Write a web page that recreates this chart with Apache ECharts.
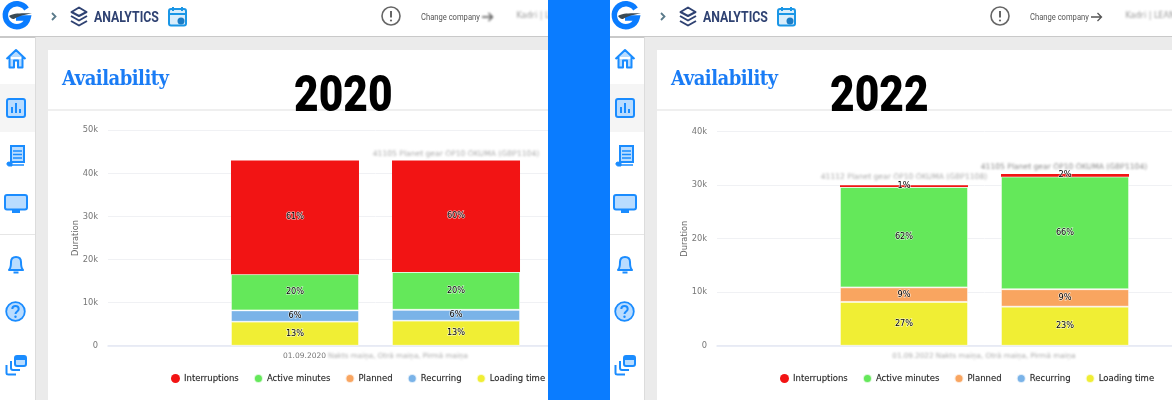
<!DOCTYPE html>
<html><head><meta charset="utf-8">
<script src="https://cdn.jsdelivr.net/npm/echarts@6/dist/echarts.min.js"></script>
<style>
html,body{margin:0;padding:0;width:1172px;height:400px;overflow:hidden;background:#fff;font-family:Roboto,sans-serif}
.panel{position:absolute;top:0;height:400px;overflow:hidden;background:#fff}
.abs{position:absolute;white-space:nowrap}
.blur{position:absolute;white-space:nowrap;filter:blur(1px);transform:translateX(-50%);font-family:"DejaVu Sans";font-size:7.6px;color:#888}
.chart{position:absolute;left:0;top:0;width:700px;height:400px}
svg{position:absolute;overflow:visible}
</style></head><body>
<div class="panel" id="p0" style="left:0;width:548px"></div>
<div class="panel" id="p1" style="left:609px;width:563px"></div>
<div class="abs" style="left:548px;top:0;width:62px;height:400px;background:#0a7cff;z-index:5"></div>
<script>
const seriesNames=['Loading time','Recurring','Planned','Active minutes','Interruptions'];
const seriesColors=['#f0ee34','#7ab3e8','#f9a560','#64e85a','#f21414'];
const legendOrder=['Interruptions','Active minutes','Planned','Recurring','Loading time'];

const loading2020=[5570,5800], recurring2020=[2630,2550], planned2020=[0,0], active2020=[8400,8750], interruptions2020=[26400,25900];
const pctLoading2020=['13%','13%'], pctRecurring2020=['6%','6%'], pctPlanned2020=['',''], pctActive2020=['20%','20%'], pctInterruptions2020=['61%','60%'];

const loading2022=[8200,7300], recurring2022=[0,0], planned2022=[2700,3250], active2022=[18750,21050], interruptions2022=[350,500];
const pctLoading2022=['27%','23%'], pctRecurring2022=['',''], pctPlanned2022=['9%','9%'], pctActive2022=['62%','66%'], pctInterruptions2022=['1%','2%'];

const yTicksMax2020=50000, yTicksMax2022=40000, yInterval=10000;
const dateLabel2020='01.09.2020', dateLabel2022='01.09.2022';
const shiftLabel='Nakts maiņa, Otrā maiņa, Pirmā maiņa';
const partName1='41112 Planet gear OP10 OKUMA (GBP1108)', partName2='41105 Planet gear OP10 OKUMA (GBP1104)';

const B='#1a8cff', L='#b9dcff';
const icons=`
<svg style="left:5px;top:48px" width="22" height="22" viewBox="0 0 22 22"><path d="M1.5 11 11 2l9.5 9M4.5 9v10.5h4.5v-7h4v7h4.5V9" fill="${L}" stroke="${B}" stroke-width="2" stroke-linejoin="round"/></svg>
<svg style="left:6px;top:98px" width="20" height="20" viewBox="0 0 20 20"><rect x="1" y="1" width="18" height="18" rx="2" fill="${L}" stroke="${B}" stroke-width="2"/><path d="M6 15V9M10 15V5M14 15v-4" stroke="${B}" stroke-width="2"/></svg>
<svg style="left:6px;top:145px" width="20" height="22" viewBox="0 0 20 22"><path d="M5 1h13v16H5z" fill="${L}" stroke="${B}" stroke-width="2"/><path d="M1 18c2-2 3 0 4-1v-1h1v5H3c-1 0-2-1-2-2z" fill="${B}" stroke="${B}"/><path d="M5 20h13M7 6h9M7 9.500h9M7 13h9" stroke="${B}" stroke-width="1.500"/></svg>
<svg style="left:4px;top:194px" width="24" height="20" viewBox="0 0 24 20"><rect x="1" y="1" width="22" height="14.500" rx="2" fill="${L}" stroke="${B}" stroke-width="2"/><rect x="8" y="16" width="8" height="3" fill="${B}"/></svg>
<svg style="left:7px;top:254px" width="18" height="21" viewBox="0 0 18 21"><path d="M2 16c2-2 2-4 2-8 0-3 2-5 5-5s5 2 5 5c0 4 0 6 2 8z" fill="${L}" stroke="${B}" stroke-width="2" stroke-linejoin="round"/><path d="M6.500 18.500h5" stroke="${B}" stroke-width="2"/></svg>
<svg style="left:5px;top:301px" width="21" height="21" viewBox="0 0 21 21"><circle cx="10.500" cy="10.500" r="9.300" fill="${L}" stroke="${B}" stroke-width="1.800"/><path d="M7.300 8c0-2 1.500-3 3.200-3s3.200 1 3.200 3c0 2.500-3.200 2.500-3.200 5" fill="none" stroke="${B}" stroke-width="2"/><circle cx="10.500" cy="15.800" r="1.200" fill="${B}"/></svg>
<svg style="left:5px;top:355px" width="22" height="21" viewBox="0 0 22 21"><rect x="10" y="1" width="11" height="10" rx="2" fill="${L}" stroke="${B}" stroke-width="2"/><rect x="10" y="2" width="11" height="3" fill="${B}"/><path d="M6 6v7c0 1 1 2 2 2h7M1.500 10v8c0 1 1 1.500 2 1.500H11" fill="none" stroke="${B}" stroke-width="2"/></svg>`;

function chrome(title, x, showArrowBlur, blurUser){
return `
<div class="abs" style="left:0;top:36px;width:100%;height:1.500px;background:#c9c9c9"></div>
<div class="abs" style="left:35px;top:37px;width:1000px;height:363px;background:#ebebeb;border-left:1px solid #dcdcdc"></div>
<div class="abs" style="left:0;top:84px;width:35px;height:48px;background:#f5f5f5"></div>
<div class="abs" style="left:0;top:234px;width:35px;height:1px;background:#e6e6e6"></div>
<div class="abs" style="left:48px;top:50px;width:1000px;height:350px;background:#fff"></div>
<div class="abs" style="left:48px;top:109px;width:1000px;height:1.500px;background:#efefef"></div>
<svg style="left:2px;top:2px" width="29" height="29" viewBox="0 0 29 29"><path d="M24.500 7A11.500 11.500 0 1 0 26 16H14" fill="none" stroke="#0a7cff" stroke-width="5.500"/><path d="M7 14c4-2.500 11-3 23-2.500C20 13 15 15 12 17c-2 .5-4-1.500-5-3z" fill="#3a4a55"/></svg>
<svg style="left:51px;top:12px" width="6" height="9" viewBox="0 0 6 9"><path d="M1 1l3.500 3.500L1 8" fill="none" stroke="#5a7a8a" stroke-width="1.800"/></svg>
<svg style="left:69px;top:6px" width="20" height="22" viewBox="0 0 20 22"><g fill="none" stroke="#2f4272" stroke-width="2" stroke-linejoin="round"><path d="M10 1.500 17.500 6 10 10 2.500 6z"/><path d="M2 10l8 4.500 8-4.500M2 15l8 4.500 8-4.500"/></g></svg>
<div class="abs" style="left:94px;top:7px;font:700 15px/20px Roboto;color:#2f4272;transform:scaleX(.82);transform-origin:left">ANALYTICS</div>
<svg style="left:168px;top:6px" width="19" height="21" viewBox="0 0 19 21"><rect x="1" y="3" width="17" height="16.500" rx="2" fill="#d9edfb" stroke="#1a96e6" stroke-width="2"/><path d="M1 8h17M5 1v4M14 1v4" stroke="#1a96e6" stroke-width="2"/><circle cx="13" cy="15" r="3.500" fill="#1a7cc6"/></svg>
<svg style="left:381px;top:6px" width="20" height="20" viewBox="0 0 20 20"><circle cx="10" cy="10" r="9" fill="none" stroke="#666" stroke-width="1.600"/><path d="M10 5v6.500" stroke="#666" stroke-width="2"/><circle cx="10" cy="14.500" r="1.100" fill="#666"/></svg>
<div class="abs" style="left:421px;top:11px;font:400 9.500px/12px Roboto;color:#555;transform:scaleX(.8);transform-origin:left">Change company</div>
<svg style="left:482px;top:12px;${showArrowBlur?'filter:blur(.8px)':''}" width="12" height="10" viewBox="0 0 12 10"><path d="M0 5h10M6.500 1 10.500 5 6.500 9" fill="none" stroke="#555" stroke-width="1.300"/></svg>
<div class="blur" style="left:${blurUser}px;top:11px;font-size:8px;color:#999">Kadri | LEAN Manager</div>
<div class="abs" style="left:62px;top:64px;font:700 20.500px/28px 'DejaVu Serif';color:#1a7cf5;letter-spacing:-.6px;transform:scaleX(.88);transform-origin:left">Availability</div>
<div class="abs" style="left:${x}px;top:64px;font:900 50px/60px Roboto;color:#000;transform:scaleX(.85);transform-origin:left">${title}</div>
${icons}`;
}

function build(id,title,titleX,arrowBlur,userX,yMax,gridTop,date,showDate,data,pcts,blurs){
  const p=document.getElementById(id);
  p.innerHTML=chrome(title,titleX,arrowBlur,userX)+'<div class="chart"></div>'+
    blurs.map(b=>`<div class="blur" style="left:${b[1]}px;top:${b[2]}px;${b[3]||''}">${b[0]}</div>`).join('');
  const chart=echarts.init(p.querySelector('.chart'),null,{renderer:'canvas'});
  const series=[];
  [0,1].forEach(s=>{
    seriesNames.forEach((n,i)=>{
      series.push({name:n,type:'bar',stack:'s'+s,barWidth:128,barGap:'25.800%',
        data:[data[i][s]],
        itemStyle:{color:seriesColors[i],borderColor:i===4?'transparent':'rgba(255,255,255,.75)',borderWidth:i===4?0:.8},
        label:{show:!!pcts[i][s],position:'inside',formatter:()=>pcts[i][s],
          fontFamily:'DejaVu Sans',fontSize:8.200,color:'#000',textBorderColor:'rgba(255,255,255,.75)',textBorderWidth:1.200}});
    });
  });
  chart.setOption({
    animation:false,
    color:seriesColors,
    grid:{left:108,width:535,top:gridTop,bottom:54.300},
    legend:{left:171,top:373,padding:0,itemGap:14,itemWidth:9,itemHeight:9,icon:'circle',data:legendOrder,
      textStyle:{fontFamily:'DejaVu Sans',fontSize:8.500,color:'#222',textBorderColor:'rgba(30,30,30,.35)',textBorderWidth:.3,padding:[0,0,0,-1]}},
    xAxis:{type:'category',data:[date],
      axisTick:{show:false},axisLine:{lineStyle:{color:'#e3e8f4',width:1.500}},
      axisLabel:{show:showDate,fontFamily:'DejaVu Sans',fontSize:7.500,color:'#777',margin:6,padding:[0,142,0,0]}},
    yAxis:{type:'value',min:0,max:yMax,interval:yInterval,name:'Duration',nameLocation:'middle',nameGap:28,nameMoveOverlap:false,
      nameTextStyle:{fontFamily:'DejaVu Sans',fontSize:8.300,color:'#666'},
      axisLabel:{formatter:v=>v===0?'0':(v/1000)+'k',fontFamily:'DejaVu Sans',fontSize:8.300,color:'#777',margin:10},
      axisLine:{show:false},axisTick:{show:false},splitLine:{lineStyle:{color:'#f0f1f4',width:1}}},
    series
  });
}

build('p0','2020',294,true,560,yTicksMax2020,130.300,dateLabel2020,true,
  [loading2020,recurring2020,planned2020,active2020,interruptions2020],
  [pctLoading2020,pctRecurring2020,pctPlanned2020,pctActive2020,pctInterruptions2020],
  [[partName2,456,149,'color:#aaa'],[shiftLabel,398,351,'font-size:7.200px;color:#aaa']]);
build('p1','2022',221,false,560,yTicksMax2022,131.700,dateLabel2022,false,
  [loading2022,recurring2022,planned2022,active2022,interruptions2022],
  [pctLoading2022,pctRecurring2022,pctPlanned2022,pctActive2022,pctInterruptions2022],
  [[partName1,295,172,'color:#aaa'],[partName2,455,162],[dateLabel2022+' '+shiftLabel,375,351,'font-size:7.200px;color:#aaa']]);
</script></body></html>
